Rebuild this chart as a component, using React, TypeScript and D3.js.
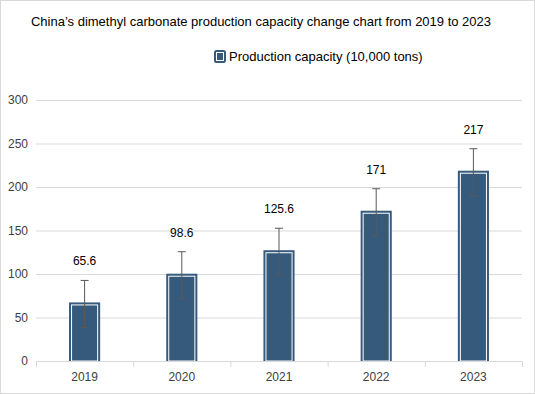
import React from "react";
import * as d3 from "d3";

const years = ["2019", "2020", "2021", "2022", "2023"];
const capacity = [65.6, 98.6, 125.6, 171, 217];
const errorAmount = [27, 27, 27, 27, 27];
const yTicks = [0, 50, 100, 150, 200, 250, 300];

const title = "China\u2019s dimethyl carbonate production capacity change chart from 2019 to 2023";
const seriesName = "Production capacity (10,000 tons)";

const W = 535;
const H = 394;
const margin = { top: 100, right: 13, bottom: 33, left: 36 };
const barColor = "#365a7c";

const App = () => {
  const innerW = W - margin.left - margin.right;
  const innerH = H - margin.top - margin.bottom;

  const x = d3.scaleBand().domain(years).range([0, innerW]).paddingInner(0.68).paddingOuter(0.34);
  const y = d3.scaleLinear().domain([0, 300]).range([innerH, 0]);
  const step = x.step();
  const bw = x.bandwidth();

  return (
    <svg
      width={W}
      height={H}
      style={{ position: "absolute", left: 0, top: 0, fontFamily: "'Liberation Sans', Arial, sans-serif" }}
    >
      <rect x={0.5} y={0.5} width={W - 1} height={H - 1} fill="#fff" stroke="#d9d9d9" />
      <text x={261} y={26} textAnchor="middle" fontSize={13} fill="#000">
        {title}
      </text>
      <g transform="translate(214,50)">
        <rect x={1} y={1} width={10} height={11} rx={1.5} fill={barColor} stroke={barColor} strokeWidth={2} />
        <rect x={2.5} y={2.5} width={7} height={8} fill={barColor} stroke="#fff" strokeWidth={1} />
        <text x={15} y={11} fontSize={13} fill="#000">
          {seriesName}
        </text>
      </g>
      <g transform={`translate(${margin.left},${margin.top})`}>
        {yTicks.map((t) => (
          <g key={t}>
            <line x1={0} x2={innerW} y1={y(t) + 0.5} y2={y(t) + 0.5} stroke="#d9d9d9" />
            <text x={-8} y={y(t) + 4} textAnchor="end" fontSize={12} fill="#404040">
              {t}
            </text>
          </g>
        ))}
        {d3.range(years.length + 1).map((i) => (
          <line key={i} x1={i * step + 0.5} x2={i * step + 0.5} y1={innerH} y2={innerH + 6} stroke="#d9d9d9" />
        ))}
        {years.map((yr, i) => {
          const x0 = x(yr) as number;
          const top = y(capacity[i]) - 1.5;
          const cx = x0 + bw / 2;
          const hi = y(capacity[i] + errorAmount[i]);
          const lo = y(capacity[i] - errorAmount[i]);
          return (
            <g key={yr}>
              <rect x={x0} y={top} width={bw} height={innerH - top} fill={barColor} />
              <rect
                x={x0 + 2.5}
                y={top + 2.5}
                width={bw - 5}
                height={innerH - top - 2.5}
                fill={barColor}
                stroke="#fff"
                strokeWidth={1}
              />
              <line x1={cx} x2={cx} y1={hi} y2={lo} stroke="#595959" />
              <line x1={cx - 4} x2={cx + 4} y1={hi} y2={hi} stroke="#595959" />
              <line x1={cx - 4} x2={cx + 4} y1={lo} y2={lo} stroke="#595959" />
              <text x={cx} y={top - 37} textAnchor="middle" fontSize={12} fill="#000">
                {capacity[i]}
              </text>
              <text x={cx} y={innerH + 20} textAnchor="middle" fontSize={12} fill="#404040">
                {yr}
              </text>
            </g>
          );
        })}
        <line x1={0} x2={innerW} y1={innerH + 0.5} y2={innerH + 0.5} stroke="#d9d9d9" />
      </g>
    </svg>
  );
};

export default App;
